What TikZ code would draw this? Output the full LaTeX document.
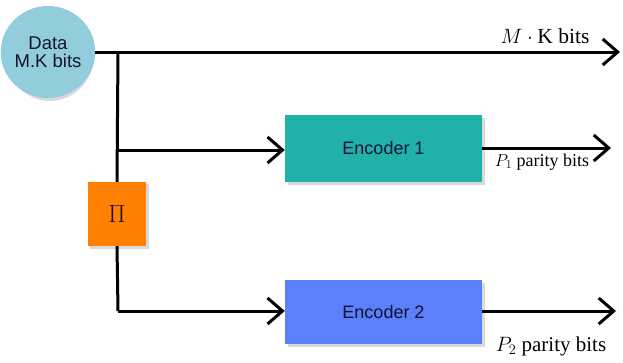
\documentclass[tikz,border=0pt]{standalone}
\usepackage{fontspec}
\setmainfont{Liberation Serif}
\newfontfamily\arialfont{Liberation Sans}
\usetikzlibrary{arrows.meta,shapes.geometric}
\definecolor{ellblue}{RGB}{146,205,222}
\definecolor{enconeteal}{RGB}{32,178,170}
\definecolor{enctwoblue}{RGB}{92,128,250}
\definecolor{pior}{RGB}{255,128,0}
\definecolor{txtnavy}{RGB}{20,20,50}
\tikzset{
  conn/.style={line width=3pt},
  arr/.style={conn,-{Straight Barb[length=15pt,width=26pt,line width=3pt]}},
  encbox/.style={rectangle,minimum width=197pt,minimum height=66pt,inner sep=0pt,
    font=\arialfont\fontsize{18}{20}\selectfont,text=txtnavy},
}
\begin{document}
\begin{tikzpicture}[x=1pt,y=-1pt]
\useasboundingbox (0,0) rectangle (623,362);
% shadows
\fill[black!15] (50,55) ellipse (44pt and 46pt);
\fill[black!15] (288,118) rectangle (485,185);
\fill[black!15] (288,283) rectangle (485,347);
\fill[black!15] (90,184) rectangle (149,249);
% nodes
\node[ellipse,fill=ellblue,minimum width=88pt,minimum height=92pt,inner sep=0pt,
  align=center,font=\arialfont\fontsize{18.5}{19}\selectfont,text=txtnavy] (data) at (48,52) {Data\\[-1pt]M.K bits};
\node[encbox,fill=enconeteal,minimum height=67pt] (enc1) at (383.5,148.5) {Encoder 1};
\node[encbox,fill=enctwoblue,minimum height=64pt] (enc2) at (383.5,312) {Encoder 2};
\node[rectangle,fill=pior,minimum width=58pt,minimum height=64pt,inner sep=0pt,
  font=\fontsize{24}{26}\selectfont,text=txtnavy] (pi) at (117,214) {$\Pi$};
% coordinates
\coordinate (j1) at (118,52);
\coordinate (j2) at (118,150);
\coordinate (j3) at (118,311);
\coordinate (out0) at (620,52);
\coordinate (out1) at (611,148);
\coordinate (out2) at (616,311);
% connectors
\draw[arr] (data.east |- j1) -- (out0);
\draw[conn] (j1) -- (pi.north);
\draw[arr] (j2) -- (enc1.west |- j2);
\draw[conn] (pi.south) -- (j3);
\draw[arr] (j3) -- (enc2.west |- j3);
\draw[arr] (enc1.east |- out1) -- (out1);
\draw[arr] (enc2.east |- out2) -- (out2);
% labels
\node[font=\fontsize{21.5}{23}\selectfont,inner sep=0pt] (lab0) at (545,36) {$M\cdot\mathrm{K}$ bits};
\node[font=\fontsize{18}{20}\selectfont,inner sep=0pt] (lab1) at (542,162) {$P_1$ parity bits};
\node[font=\fontsize{21}{23}\selectfont,inner sep=0pt] (lab2) at (551,346) {$P_2$ parity bits};
\end{tikzpicture}
\end{document}
